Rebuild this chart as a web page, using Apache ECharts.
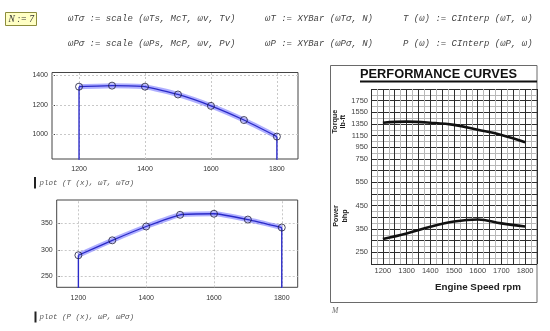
<!DOCTYPE html>
<html>
<head>
<meta charset="utf-8">
<script src="https://cdn.jsdelivr.net/npm/echarts@6/dist/echarts.min.js"></script>
<style>html,body{margin:0;padding:0;background:#fff;}#c{width:550px;height:331px;}</style>
</head>
<body>
<div id="c"></div>
<script>
// ---- data ----
const rpm = [1200, 1300, 1400, 1500, 1600, 1700, 1800];
const torqueSamples = [1323, 1330, 1323, 1270, 1193, 1097, 985];
const powerSamples = [290, 318, 344, 366, 368, 357, 342];
const torqueOutside = 0;
const powerOutside = 0;
const curveTorque = [1372, 1390, 1372, 1335, 1252, 1163, 1037];
const curvePower = [307, 331, 360, 382, 391, 374, 361];
const leftXTicks = [1200, 1400, 1600, 1800];
const torqueYTicks = [1000, 1200, 1400];
const powerYTicks = [250, 300, 350];
const rightXTicks = [1200, 1300, 1400, 1500, 1600, 1700, 1800];
const rightTorqueTicks = [750, 950, 1150, 1350, 1550, 1750];
const rightPowerTicks = [250, 350, 450, 550];

const pairs = (xs, ys) => xs.map((x, i) => [x, ys[i]]);
const drops = (xs, ys, out) => [[xs[0], out], [xs[0], ys[0]], ['-', '-'], [xs[xs.length - 1], ys[ys.length - 1]], [xs[xs.length - 1], out]];
const plain = v => String(v);

const chart = echarts.init(document.getElementById('c'), null, {renderer: 'canvas'});
const tickFont = {fontFamily: 'Liberation Sans', fontSize: 7, color: '#333', formatter: plain};
const rightFont = {fontFamily: 'Liberation Sans', fontSize: 7.5, color: '#444', formatter: plain};
const gridLineMark = (xt, yt) => ({
  silent: true, symbol: 'none', label: {show: false}, z: 1,
  lineStyle: {color: '#c8c8c8', type: [2, 2], width: 1},
  data: xt.map(v => ({xAxis: v})).concat(yt.map(v => ({yAxis: v})))
});
const blue = '#2a2ac8';
const band = 'rgba(95,95,255,0.5)';

function leftSeries(idx, vals, out, ticksY) {
  return [
    {type: 'line', xAxisIndex: idx, yAxisIndex: idx, data: [], z: 1, markLine: gridLineMark(leftXTicks, ticksY)},
    {type: 'line', xAxisIndex: idx, yAxisIndex: idx, data: pairs(rpm, vals), smooth: 0.15, showSymbol: false,
      lineStyle: {color: band, width: 5}, z: 2},
    {type: 'line', xAxisIndex: idx, yAxisIndex: idx, data: pairs(rpm, vals), smooth: 0.15, showSymbol: false,
      lineStyle: {color: blue, width: 1.3}, z: 3},
    {type: 'line', xAxisIndex: idx, yAxisIndex: idx, data: drops(rpm, vals, out), showSymbol: false,
      lineStyle: {color: blue, width: 1.4}, z: 3},
    {type: 'scatter', xAxisIndex: idx, yAxisIndex: idx, data: pairs(rpm, vals), symbol: 'circle', symbolSize: 7,
      itemStyle: {color: 'rgba(0,0,0,0)', borderColor: '#1a1a3a', borderWidth: 1}, z: 4}
  ];
}

const monoItalic = 'italic 9px "Liberation Mono"';
const txt = (x, y, s, font, fill, align) => ({
  type: 'text', x: x, y: y, z: 10,
  style: {text: s, font: font, fill: fill || '#444', align: align || 'left', verticalAlign: 'middle'}
});
const vtxt = (x, y, s) => ({
  type: 'text', x: x, y: y, rotation: Math.PI / 2, z: 10,
  style: {text: s, font: 'bold 7.2px "Liberation Sans"', fill: '#222', align: 'center', verticalAlign: 'middle'}
});

const option = {
  animation: false,
  backgroundColor: '#fff',
  grid: [
    {left: 52, top: 72.5, width: 246, height: 86.5, show: true, borderColor: '#444', borderWidth: 1, backgroundColor: '#fff'},
    {left: 56.7, top: 200, width: 241, height: 87.3, show: true, borderColor: '#444', borderWidth: 1, backgroundColor: '#fff'},
    {left: 371, top: 89, width: 166, height: 175, show: false}
  ],
  xAxis: [
    {type: 'value', gridIndex: 0, min: 1118, max: 1864, splitLine: {show: false}, axisLine: {show: false},
      axisTick: {show: false}, axisLabel: Object.assign({customValues: leftXTicks, margin: 7}, tickFont)},
    {type: 'value', gridIndex: 1, min: 1136, max: 1847, splitLine: {show: false}, axisLine: {show: false},
      axisTick: {show: false}, axisLabel: Object.assign({customValues: leftXTicks, margin: 7}, tickFont)},
    {type: 'value', gridIndex: 2, min: 1150, max: 1850, interval: 50,
      splitLine: {show: true, lineStyle: {color: '#2e2e2e', width: 1}},
      minorTick: {show: false, splitNumber: 2},
      minorSplitLine: {show: true, lineStyle: {color: '#b8b8b8', width: 1}},
      axisLine: {show: false}, axisTick: {show: false},
      axisLabel: Object.assign({customValues: rightXTicks, margin: 3}, rightFont)}
  ],
  yAxis: [
    {type: 'value', gridIndex: 0, min: 833, max: 1419, splitLine: {show: false}, axisLine: {show: false},
      axisTick: {show: true, inside: true, length: 3, customValues: torqueYTicks, lineStyle: {color: '#444'}},
      axisLabel: Object.assign({customValues: torqueYTicks, margin: 4}, tickFont)},
    {type: 'value', gridIndex: 1, min: 229.7, max: 393.8, splitLine: {show: false}, axisLine: {show: false},
      axisTick: {show: true, inside: true, length: 3, customValues: powerYTicks, lineStyle: {color: '#444'}},
      axisLabel: Object.assign({customValues: powerYTicks, margin: 4}, tickFont)},
    {type: 'value', gridIndex: 2, min: -1050, max: 1950, splitLine: {show: false}, axisLine: {show: false},
      axisTick: {show: false},
      axisLabel: Object.assign({customValues: rightTorqueTicks, margin: 3}, rightFont)},
    {type: 'value', gridIndex: 2, min: 200, max: 950, interval: 50, position: 'left',
      splitLine: {show: true, lineStyle: {color: '#2e2e2e', width: 1}},
      minorTick: {show: false, splitNumber: 2},
      minorSplitLine: {show: true, lineStyle: {color: '#b8b8b8', width: 1}},
      axisLine: {show: false}, axisTick: {show: false},
      axisLabel: Object.assign({customValues: rightPowerTicks, margin: 3}, rightFont)}
  ],
  series: [].concat(
    leftSeries(0, torqueSamples, torqueOutside, torqueYTicks),
    leftSeries(1, powerSamples, powerOutside, powerYTicks),
    [
      {type: 'line', xAxisIndex: 2, yAxisIndex: 2, data: pairs(rpm, curveTorque), smooth: 0.4, showSymbol: false,
        lineStyle: {color: '#111', width: 2.6}, z: 5},
      {type: 'line', xAxisIndex: 2, yAxisIndex: 3, data: pairs(rpm, curvePower), smooth: 0.4, showSymbol: false,
        lineStyle: {color: '#111', width: 2.6}, z: 5}
    ]
  ),
  graphic: [
    {type: 'rect', shape: {x: 5.5, y: 12.5, width: 31, height: 13}, style: {fill: '#ffffc4', stroke: '#8c8c3c', lineWidth: 1}, z: 9},
    txt(8.5, 19.2, 'N := 7', 'italic 9.5px "Liberation Serif"', '#333'),
    txt(68, 19, 'ωTσ := scale (ωTs, McT, ωv, Tv)', monoItalic),
    txt(68, 43.3, 'ωPσ := scale (ωPs, McP, ωv, Pv)', monoItalic),
    txt(265, 19, 'ωT := XYBar (ωTσ, N)', monoItalic),
    txt(265, 43.3, 'ωP := XYBar (ωPσ, N)', monoItalic),
    txt(403, 19, 'T (ω) := CInterp (ωT, ω)', monoItalic),
    txt(403, 43.3, 'P (ω) := CInterp (ωP, ω)', monoItalic),
    {type: 'rect', shape: {x: 34, y: 177, width: 2, height: 11.5}, style: {fill: '#222'}, z: 9},
    txt(39.5, 182.8, 'plot (T (x), ωT, ωTσ)', 'italic 7.5px "Liberation Mono"', '#555'),
    {type: 'rect', shape: {x: 34.5, y: 311.5, width: 2, height: 11}, style: {fill: '#222'}, z: 9},
    txt(39.5, 316.8, 'plot (P (x), ωP, ωPσ)', 'italic 7.5px "Liberation Mono"', '#555'),
    {type: 'rect', shape: {x: 330.5, y: 65.5, width: 206.5, height: 237}, style: {fill: 'none', stroke: '#6a6a6a', lineWidth: 1}, z: 0},
    txt(438.5, 74.5, 'PERFORMANCE CURVES', 'bold 12.8px "Liberation Sans"', '#111', 'center'),
    {type: 'line', shape: {x1: 360, y1: 81.5, x2: 537, y2: 81.5}, style: {stroke: '#111', lineWidth: 2}, z: 9},
    vtxt(335, 121.7, 'Torque'),
    vtxt(343.5, 121.7, 'lb-ft'),
    vtxt(336, 216, 'Power'),
    vtxt(345, 216, 'bhp'),
    txt(478, 287, 'Engine Speed rpm', 'bold 9.8px "Liberation Sans"', '#222', 'center'),
    txt(332, 311, 'M', 'italic 7.5px "Liberation Serif"', '#666')
  ]
};
chart.setOption(option);
</script>
</body>
</html>
